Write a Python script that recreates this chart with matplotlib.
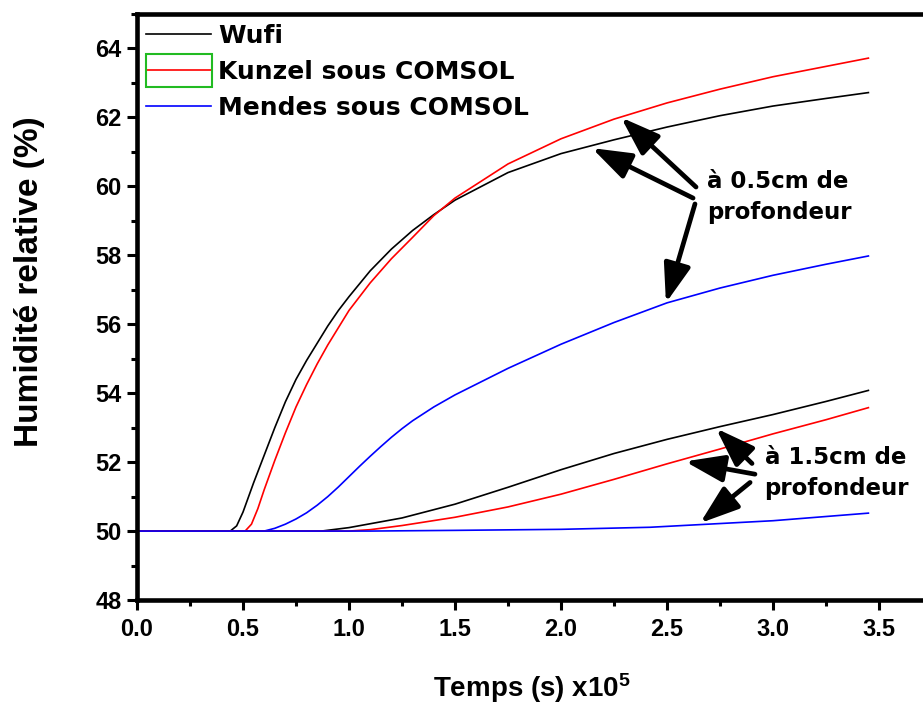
import numpy as np
import matplotlib.pyplot as plt
from matplotlib.patches import Rectangle
from matplotlib.ticker import MultipleLocator

# (time in 1e5 s, RH in %)
t_wufi_05 = [0, 0.44, 0.47, 0.50, 0.55, 0.60, 0.65, 0.70, 0.75, 0.80, 0.85, 0.90, 0.95, 1.00,
             1.10, 1.20, 1.30, 1.40, 1.50, 1.75, 2.00, 2.25, 2.50, 2.75, 3.00, 3.25, 3.45]
hr_wufi_05 = [50, 50.0, 50.15, 50.55, 51.4, 52.2, 53.0, 53.75, 54.4, 54.95, 55.45, 55.95, 56.4, 56.8,
              57.55, 58.18, 58.72, 59.18, 59.6, 60.4, 60.95, 61.35, 61.72, 62.05, 62.33, 62.55, 62.72]

t_kunzel_05 = [0, 0.51, 0.54, 0.57, 0.60, 0.65, 0.70, 0.75, 0.80, 0.85, 0.90, 0.95, 1.00,
               1.10, 1.20, 1.30, 1.40, 1.50, 1.75, 2.00, 2.25, 2.50, 2.75, 3.00, 3.25, 3.45]
hr_kunzel_05 = [50, 50.0, 50.2, 50.65, 51.2, 52.05, 52.85, 53.6, 54.25, 54.85, 55.4, 55.9, 56.4,
                57.2, 57.9, 58.52, 59.15, 59.66, 60.65, 61.38, 61.95, 62.42, 62.82, 63.18, 63.48, 63.72]

t_mendes_05 = [0, 0.60, 0.65, 0.70, 0.75, 0.80, 0.85, 0.90, 0.95, 1.00, 1.05, 1.10, 1.15, 1.20,
               1.25, 1.30, 1.40, 1.50, 1.75, 2.00, 2.25, 2.50, 2.75, 3.00, 3.25, 3.45]
hr_mendes_05 = [50, 50.0, 50.08, 50.2, 50.35, 50.53, 50.75, 51.0, 51.28, 51.58, 51.88, 52.17, 52.45, 52.72,
                52.97, 53.2, 53.6, 53.95, 54.72, 55.42, 56.05, 56.62, 57.05, 57.42, 57.74, 57.98]

t_wufi_15 = [0, 0.87, 1.00, 1.25, 1.50, 1.75, 2.00, 2.25, 2.50, 2.75, 3.00, 3.25, 3.45]
hr_wufi_15 = [50, 50.0, 50.1, 50.38, 50.78, 51.27, 51.78, 52.25, 52.66, 53.03, 53.38, 53.76, 54.08]

t_kunzel_15 = [0, 1.00, 1.10, 1.25, 1.50, 1.75, 2.00, 2.25, 2.50, 2.75, 3.00, 3.25, 3.45]
hr_kunzel_15 = [50, 50.0, 50.04, 50.16, 50.4, 50.7, 51.07, 51.5, 51.95, 52.38, 52.82, 53.23, 53.58]

t_mendes_15 = [0, 1.1, 1.5, 2.0, 2.42, 3.0, 3.45]
hr_mendes_15 = [50, 50.0, 50.02, 50.05, 50.11, 50.3, 50.52]

plt.rcParams['font.family'] = ['Liberation Sans', 'DejaVu Sans']
plt.rcParams['font.weight'] = 'bold'
plt.rcParams['mathtext.default'] = 'regular'

W, H = 923, 706
fig = plt.figure(figsize=(W / 100, H / 100), dpi=100)
ax = fig.add_axes([137 / W, 106 / H, 805.6 / W, 586 / H])

ax.plot(t_wufi_05, hr_wufi_05, color='black', lw=1.2, label='Wufi')
ax.plot(t_kunzel_05, hr_kunzel_05, color='red', lw=1.2, label='Kunzel sous COMSOL')
ax.plot(t_mendes_05, hr_mendes_05, color='blue', lw=1.2, label='Mendes sous COMSOL')
ax.plot(t_wufi_15, hr_wufi_15, color='black', lw=1.2)
ax.plot(t_kunzel_15, hr_kunzel_15, color='red', lw=1.2)
ax.plot(t_mendes_15, hr_mendes_15, color='blue', lw=1.2)

ax.set_xlim(0, 3.8)
ax.set_ylim(48, 65)
ax.xaxis.set_major_locator(MultipleLocator(0.5))
ax.xaxis.set_minor_locator(MultipleLocator(0.25))
ax.yaxis.set_major_locator(MultipleLocator(2))
ax.yaxis.set_minor_locator(MultipleLocator(1))
ax.xaxis.set_major_formatter(plt.FormatStrFormatter('%.1f'))
for s in ax.spines.values():
    s.set_linewidth(3.3)
ax.tick_params(which='major', direction='out', length=7, width=2.2, labelsize=17)
ax.tick_params(which='minor', direction='out', length=4.5, width=2.2)
ax.tick_params(axis='x', which='major', pad=6)
ax.tick_params(axis='y', which='major', pad=4)

ax.set_xlabel('Temps (s) x10$^5$', fontsize=20, fontweight='bold')
ax.xaxis.set_label_coords((532 - 137) / 805.6, (600 - 688) / 586)
ax.xaxis.label.set_va('center')
ax.set_ylabel('Humidité relative (%)', fontsize=24, fontweight='bold')
ax.yaxis.set_label_coords((30 - 137) / 805.6, (600 - 282) / 586)
ax.yaxis.label.set_va('center')

leg = ax.legend(loc='upper left', bbox_to_anchor=(146 / W, (H - 24) / H),
                bbox_transform=fig.transFigure, frameon=False, borderpad=0,
                borderaxespad=0, handlelength=2.6, handletextpad=0.3,
                labelspacing=0.48, prop={'family': 'DejaVu Sans', 'weight': 'bold', 'size': 18})
# green selection box around the Kunzel handle
fig.add_artist(Rectangle((146 / W, (H - 87) / H), 66 / W, 33 / H, transform=fig.transFigure,
                         fill=False, edgecolor='#22bb22', lw=1.5))

txt = dict(family='DejaVu Sans', fontweight='bold', fontsize=16.5, linespacing=1.45,
           ha='left', va='center')
ax.text(2.69, 59.70, 'à 0.5cm de\nprofondeur', **txt)
ax.text(2.96, 51.69, 'à 1.5cm de\nprofondeur', **txt)

arrow = dict(arrowstyle='-|>,head_length=0.95,head_width=0.33', color='black', lw=3.4,
             mutation_scale=25, shrinkA=0, shrinkB=0)
for tail, head in [((2.637, 59.98), (2.283, 62.0)),
                   ((2.623, 59.66), (2.146, 61.11)),
                   ((2.632, 59.49), (2.495, 56.62)),
                   ((2.901, 51.96), (2.731, 52.98)),
                   ((2.915, 51.65), (2.585, 52.02)),
                   ((2.892, 51.41), (2.656, 50.23))]:
    ax.annotate('', xy=head, xytext=tail, arrowprops=arrow)

fig.savefig('out.png', dpi=100)
